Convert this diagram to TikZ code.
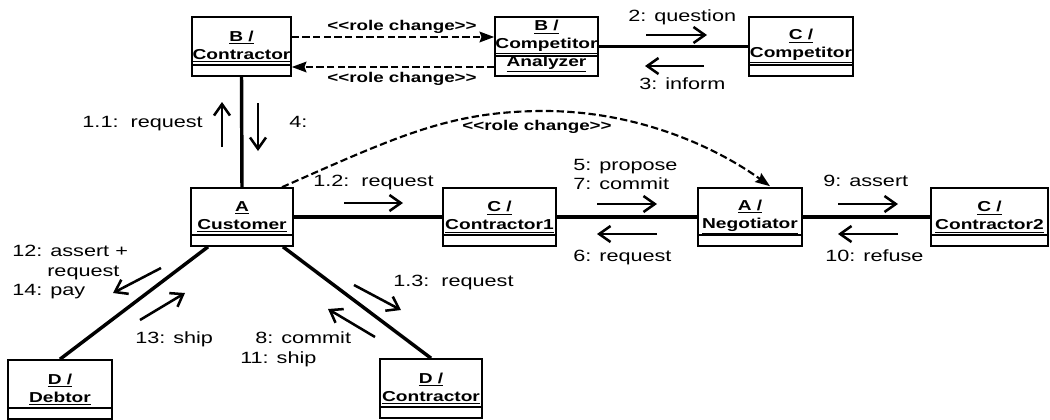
\documentclass[tikz,border=0pt]{standalone}
\usepackage{fontspec}
\setmainfont{Liberation Sans}[FakeStretch=1.33]
\usetikzlibrary{arrows.meta,calc}
\begin{document}
\begin{tikzpicture}[x=0.75pt,y=-0.75pt,
  obj/.style 2 args={draw, line width=1.2pt, inner sep=0pt, align=center,
    minimum width=#1*0.75pt, minimum height=#2*0.75pt,
    font=\bfseries\fontsize{10.8}{13.5}\selectfont},
  comp/.style={line width=1.1pt},
  link/.style={line width=2.6pt},
  msg/.style={line width=1.9pt, -{Straight Barb[length=8.5pt,width=12pt]}},
  rchange/.style={line width=1.6pt, dash pattern=on 5.5pt off 2.5pt,
    -{Stealth[length=11pt,width=8pt,inset=1.5pt]}},
  lbl/.style={inner sep=0pt, anchor=base west, font=\fontsize{12.2}{14}\selectfont},
  rclbl/.style={inner sep=0pt, anchor=base, font=\bfseries\fontsize{10.6}{12}\selectfont}
]
\useasboundingbox (0,0) rectangle (1050,419);
\clip (0,0) rectangle (1050,419);

% objects
\node[obj={99}{59}]  (bc)   at (241.5,46.5) {\underline{B /}\\\underline{Contractor}};
\node[obj={103}{59}] (ba)   at (546.5,46.5) {\underline{B /}\\\underline{Competitor}\\\underline{Analyzer}};
\node[obj={104}{59}] (cc)   at (801,46.5)   {\underline{C /}\\\underline{Competitor}};
\node[obj={102}{58}] (cust) at (242,217)    {\underline{A}\\\underline{Customer}};
\node[obj={113}{58}] (c1)   at (499.5,217)  {\underline{C /}\\\underline{Contractor1}};
\node[obj={104}{58}] (neg)  at (750,217)    {\underline{A /}\\\underline{Negotiator}};
\node[obj={117}{58}] (c2)   at (989.5,217)  {\underline{C /}\\\underline{Contractor2}};
\node[obj={104}{59}] (deb)  at (60,389.5)   {\underline{D /}\\\underline{Debtor}};
\node[obj={102}{59}] (dc)   at (431,388.5)  {\underline{D /}\\\underline{Contractor}};

% compartment lines
\foreach \n in {bc,cc,cust,c1,neg,c2,deb,dc}
  \draw[comp] ([yshift=9pt]\n.south west) -- ([yshift=9pt]\n.south east);
\draw[comp] ([yshift=15.75pt]ba.south west) -- ([yshift=15.75pt]ba.south east);

% links
\draw[link] (bc.south) -- (cust.north);
\draw[line width=2.1pt] (ba.east) -- (cc.west);
\draw[link] (cust.east) -- (c1.west);
\draw[link] (c1.east) -- (neg.west);
\draw[link] (neg.east) -- (c2.west);
\draw[link] ($(cust.south)+(-34,0)$) -- (deb.north);
\draw[link] ($(cust.south)+(41,0)$) -- (dc.north);

% role changes
\draw[rchange] ($(bc.east)+(0,-9.5)$) -- ($(ba.west)+(0,-9.5)$);
\draw[rchange] ($(ba.west)+(0,20.5)$) -- ($(bc.east)+(0,20.5)$);
\node[rclbl] (rl1) at (402,30) {<{}<role change>{}>};
\node[rclbl] (rl2) at (402,82) {<{}<role change>{}>};
\coordinate (rcs) at ($(cust.north)+(40,0)$);
\coordinate (rce) at ($(neg.north)+(20,-1)$);
\draw[rchange] (rcs) .. controls (400,135) and (450,112) .. (540,111)
  .. controls (640,110) and (720,150) .. (rce);
\node[rclbl] (rl3) at (537,130) {<{}<role change>{}>};

% messages
\draw[msg] (646,35) -- (707,35);
\draw[msg] (704,66) -- (645,66);
\draw[msg] (222,147) -- (222,102);
\draw[msg] (258,103) -- (258,151);
\draw[msg] (344,203) -- (403,203);
\draw[msg] (597,204) -- (657,204);
\draw[msg] (657,234) -- (597,234);
\draw[msg] (838,204) -- (898,204);
\draw[msg] (898,234) -- (838,234);
\draw[msg] (161,268) -- (113,293);
\draw[msg] (140,320) -- (185,293);
\draw[msg] (354,285) -- (401,310);
\draw[msg] (375,337) -- (328,309);

% message labels
\node[lbl] (t2) at (628,21) {2: question};
\node[lbl] (t3) at (639,89) {3: inform};
\node[lbl,anchor=base east] (t11) at (203,127) {1.1:~~request};
\node[lbl] (t4) at (289,127) {4:};
\node[lbl] (t12b) at (313,186) {1.2:~~request};
\node[lbl] (t5) at (573,170) {5: propose};
\node[lbl] (t7) at (573,189) {7: commit};
\node[lbl] (t6) at (573,261) {6: request};
\node[lbl] (t9) at (823,186) {9: assert};
\node[lbl] (t10) at (825,261) {10: refuse};
\node[lbl] (t12) at (12,256) {12: assert +};
\node[lbl] (t12r) at (47,276) {request};
\node[lbl] (t14) at (12,295) {14: pay};
\node[lbl] (t13) at (135,343) {13: ship};
\node[lbl] (t8) at (255,343) {8: commit};
\node[lbl] (t11s) at (240,363) {11: ship};
\node[lbl] (t13r) at (393,286) {1.3:~~request};
\end{tikzpicture}
\end{document}
